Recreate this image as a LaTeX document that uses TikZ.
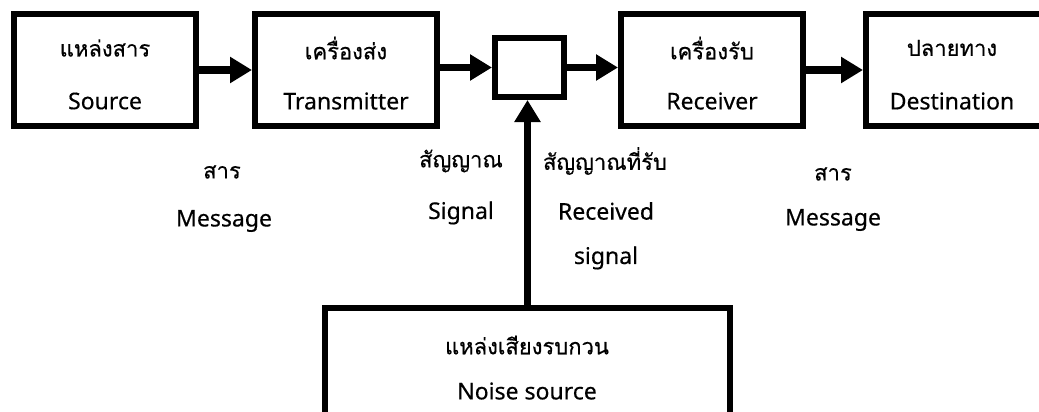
\documentclass[tikz,border=0pt]{standalone}
\usepackage{fontspec}
\setmainfont{Noto Sans}[FakeBold=0.4]
\newfontfamily\thai[Script=Thai,FakeBold=0.5]{Loma}
\usetikzlibrary{arrows.meta}
\begin{document}
\begin{tikzpicture}[x=1pt,y=-1pt,
  blk/.style={draw=black,line width=6pt,inner sep=0pt,minimum width=182pt,minimum height=112pt},
  th/.style={inner sep=0pt,font=\thai\fontsize{22}{24}\selectfont},
  en/.style={inner sep=0pt,font=\fontsize{23}{24}\selectfont},
  arr/.style={line width=7.5pt,-{Triangle[length=22pt,width=25pt]}}]
\useasboundingbox (0,0) rectangle (1039,412);
% boxes
\node[blk] (src) at (105,70) {};
\node[blk] (tx) at (346,70) {};
\node[blk,minimum width=69pt,minimum height=59pt] (mix) at (529.5,67.5) {};
\node[blk] (rx) at (712,70) {};
\node[blk] (dst) at (957,70) {};
\node[blk,minimum width=405pt,minimum height=150pt] (noise) at (527.5,383) {};
% box texts
\node[th] (srcth) at (105,48) {แหล่งสาร};
\node[en] (srcen) at (105,101) {Source};
\node[th] (txth) at (346,48) {เครื่องส่ง};
\node[en] (txen) at (346,101) {Transmitter};
\node[th] (rxth) at (712,48) {เครื่องรับ};
\node[en] (rxen) at (712,101) {Receiver};
\node[th] (dstth) at (952,48) {ปลายทาง};
\node[en] (dsten) at (952,101) {Destination};
\node[th] (nth) at (527,345) {แหล่งเสียงรบกวน};
\node[en] (nen) at (527,391) {Noise source};
% free labels
\node[th] (m1th) at (222,172) {สาร};
\node[en] (m1en) at (224,221) {Message};
\node[th] (sgth) at (461,161) {สัญญาณ};
\node[en] (sgen) at (461,213) {Signal};
\node[th] (rsth) at (605,161) {สัญญาณที่รับ};
\node[en] (rsen1) at (606,211) {Received};
\node[en] (rsen2) at (606,258) {signal};
\node[th] (m2th) at (833,174) {สาร};
\node[en] (m2en) at (833,220) {Message};
% connectors
\draw[arr] (src.east) -- (tx.west);
\draw[arr] (tx.east |- mix.west) -- (mix.west);
\draw[arr] (mix.east) -- (rx.west |- mix.east);
\draw[arr] (rx.east) -- (dst.west);
\draw[arr] (noise.north) -- (noise.north |- mix.south);
\end{tikzpicture}
\end{document}
